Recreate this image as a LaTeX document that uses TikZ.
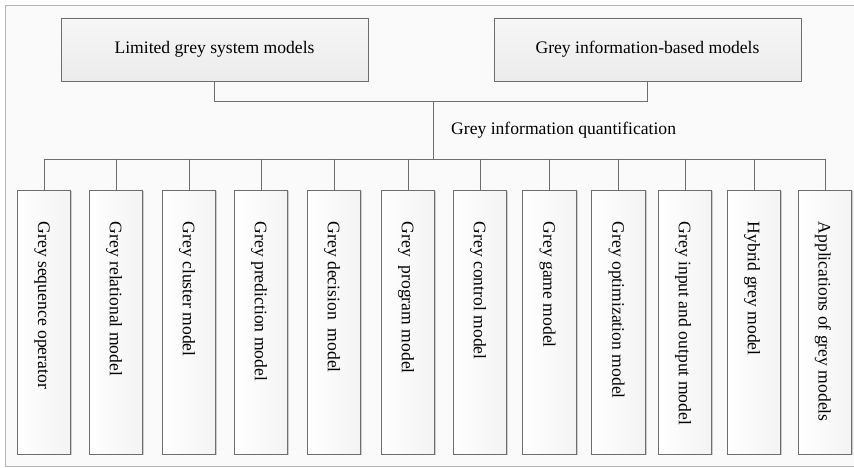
\documentclass[tikz,border=0pt]{standalone}
\usepackage{fontspec}
\setmainfont{Liberation Serif}
\usetikzlibrary{shadows}
\definecolor{edgegrey}{HTML}{6E6E6E}
\definecolor{framegrey}{HTML}{B4B4B4}
\definecolor{paper}{HTML}{FAFAFA}
\definecolor{boxtop}{HTML}{F6F6F6}
\definecolor{boxbottom}{HTML}{ECECEC}
\definecolor{boxright}{HTML}{F3F3F3}
\begin{document}
\begin{tikzpicture}[x=1pt,y=-1pt,
  txt/.style={font=\fontsize{17.6pt}{21pt}\selectfont, text=black},
  boxshadow/.style={drop shadow={shadow xshift=1.3pt, shadow yshift=-1.3pt, fill=black, opacity=0.18}},
  topbox/.style={draw=edgegrey, line width=0.9pt, top color=boxtop, bottom color=boxbottom,
    minimum width=307pt, minimum height=63pt, inner sep=0pt, txt, boxshadow},
  leafbox/.style={draw=edgegrey, line width=0.9pt, left color=white, right color=boxright,
    minimum width=53.5pt, minimum height=264pt, inner sep=0pt, boxshadow},
  leaftext/.style={txt, rotate=-90, anchor=west, inner sep=0pt},
  link/.style={draw=edgegrey, line width=0.9pt}]
\useasboundingbox (0,0) rectangle (854,468);
% outer frame
\draw[framegrey, fill=paper, line width=0.9pt] (5,5) rectangle (880,466);

% upper level
\node[topbox] (A) at (214.5,49.5) {Limited grey system models};
\node[topbox] (B) at (647.5,49.5) {Grey information-based models};
\coordinate (j) at (433,101);
\coordinate (hub) at (433,159);
\draw[link] (A.south) -- (A.south |- j) -- (B.south |- j) -- (B.south);
\draw[link] (j) -- (hub);
\node[txt, anchor=west, inner sep=0pt] (q) at (451,130) {Grey information quantification};

% lower level
\foreach \i/\cx/\name in {
  1/44/{Grey sequence operator},
  2/116/{Grey relational model},
  3/189/{Grey cluster model},
  4/261/{Grey prediction model},
  5/334/{Grey decision\ \ model},
  6/408/{Grey\ \ program model},
  7/480/{Grey control model},
  8/549.5/{Grey game model},
  9/618.5/{Grey optimization model},
  10/685/{Grey input and output model},
  11/754/{Hybrid grey model},
  12/825/{Applications of grey models}}{
  \node[leafbox] (b\i) at (\cx,322) {};
  \node[leaftext] (t\i) at ([xshift=-2pt,yshift=-32pt]b\i.north) {\name};
}
\draw[link] (b1.north |- hub) -- (b12.north |- hub);
\foreach \i in {1,...,12}{
  \draw[link] (b\i.north |- hub) -- (b\i.north);
}
\end{tikzpicture}
\end{document}
